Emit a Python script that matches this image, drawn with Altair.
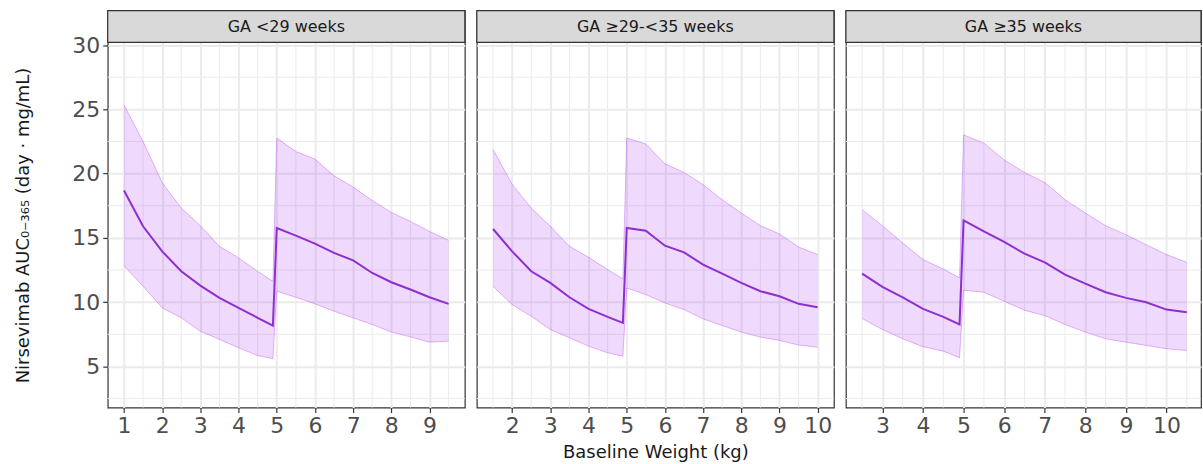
import altair as alt
import pandas as pd

# Facet labels (gestational-age groups)
panels = ["GA <29 weeks", "GA \u226529-<35 weeks", "GA \u226535 weeks"]

# GA <29 weeks
wt_a = [1, 1.5, 2, 2.5, 3, 3.5, 4, 4.5, 4.9, 5, 5.5, 6, 6.5, 7, 7.5, 8, 8.5, 9, 9.5]
med_a = [18.69, 15.9, 13.95, 12.4, 11.29, 10.33, 9.56, 8.78, 8.18,
         15.77, 15.17, 14.55, 13.83, 13.25, 12.27, 11.55, 10.98, 10.38, 9.87]
lo_a = [12.84, 11.24, 9.56, 8.78, 7.74, 7.1, 6.45, 5.85, 5.6,
        10.85, 10.38, 9.87, 9.3, 8.78, 8.26, 7.67, 7.3, 6.89, 6.96]
hi_a = [25.34, 22.5, 19.3, 17.32, 15.95, 14.34, 13.44, 12.4, 11.62,
        22.76, 21.72, 21.13, 19.83, 18.95, 17.91, 16.98, 16.28, 15.5, 14.81]

# GA >=29 to <35 weeks
wt_b = [1.5, 2, 2.5, 3, 3.5, 4, 4.5, 4.9, 5, 5.5, 6, 6.5, 7, 7.5, 8, 8.5, 9, 9.5, 10]
med_b = [15.69, 13.95, 12.4, 11.5, 10.38, 9.48, 8.86, 8.39,
         15.77, 15.56, 14.39, 13.87, 12.92, 12.22, 11.5, 10.85, 10.46, 9.87, 9.61]
lo_b = [11.24, 9.81, 8.9, 7.87, 7.23, 6.58, 6.06, 5.8,
        11.1, 10.59, 9.94, 9.42, 8.7, 8.18, 7.67, 7.28, 7.02, 6.66, 6.5]
hi_b = [21.9, 19.16, 17.32, 15.9, 14.34, 13.49, 12.53, 11.81,
        22.76, 22.31, 20.76, 20.09, 19.13, 17.97, 16.93, 15.95, 15.3, 14.29, 13.7]

# GA >=35 weeks
wt_c = [2.5, 3, 3.5, 4, 4.5, 4.9, 5, 5.5, 6, 6.5, 7, 7.5, 8, 8.5, 9, 9.5, 10, 10.5]
med_c = [12.22, 11.19, 10.38, 9.48, 8.86, 8.26,
         16.36, 15.5, 14.68, 13.77, 13.1, 12.14, 11.44, 10.77, 10.33, 9.99, 9.42, 9.22]
lo_c = [8.73, 7.87, 7.15, 6.53, 6.19, 5.67,
        10.93, 10.77, 10.07, 9.37, 8.96, 8.26, 7.67, 7.15, 6.89, 6.63, 6.37, 6.24]
hi_c = [17.19, 15.95, 14.6, 13.31, 12.58, 11.89,
        23.01, 22.37, 21.07, 20.09, 19.31, 17.97, 16.93, 15.95, 15.25, 14.47, 13.7, 13.1]

# axis domains, major breaks and minor grid positions
x_domains = [[0.575, 9.925], [1.075, 10.425], [2.1, 10.85]]
x_major = [[1, 2, 3, 4, 5, 6, 7, 8, 9],
           [2, 3, 4, 5, 6, 7, 8, 9, 10],
           [3, 4, 5, 6, 7, 8, 9, 10]]
x_minor = [[1.5, 2.5, 3.5, 4.5, 5.5, 6.5, 7.5, 8.5, 9.5],
           [1.5, 2.5, 3.5, 4.5, 5.5, 6.5, 7.5, 8.5, 9.5],
           [2.5, 3.5, 4.5, 5.5, 6.5, 7.5, 8.5, 9.5, 10.5]]
y_lo, y_hi = 1.8, 30.2          # visible data range of the panel body
y_major = [5, 10, 15, 20, 25, 30]
y_minor = [2.5, 7.5, 12.5, 17.5, 22.5, 27.5]

series = [(wt_a, med_a, lo_a, hi_a), (wt_b, med_b, lo_b, hi_b), (wt_c, med_c, lo_c, hi_c)]
widths = [358, 358, 356]
BODY_H = 366
STRIP_H = 32
TOTAL_H = BODY_H + STRIP_H
# the strip header sits on top of the body inside the same view
y_top = y_lo + (y_hi - y_lo) * TOTAL_H / BODY_H

FONT = "DejaVu Sans"
BAND = "#a020f0"
MEDIAN = "#8e2fcf"
GRID = "#ebebeb"
BORDER = "#333333"

y_title = "Nirsevimab AUC\u2080\u208b\u2083\u2086\u2085 (day \u00b7 mg/mL)"


def panel(i):
    wt, med, lo, hi = series[i]
    df = pd.DataFrame({"w": wt, "med": med, "lo": lo, "hi": hi})

    x_axis = alt.Axis(
        values=x_major[i], format="d",
        tickColor=BORDER, tickSize=5, tickWidth=1.2,
        gridColor=GRID, gridWidth=2,
        domain=False, labelFontSize=22, labelColor="#4d4d4d", labelFont=FONT,
        labelPadding=3, labelFlush=False, labelOverlap=False,
        title="Baseline Weight (kg)" if i == 1 else None,
        titleFontSize=18, titleFont=FONT, titleFontWeight="normal",
        titleColor="#1a1a1a", titlePadding=7,
    )
    if i == 0:
        y_axis = alt.Axis(
            values=y_major, format="d",
            tickColor=BORDER, tickSize=5, tickWidth=1.2,
            gridColor=GRID, gridWidth=2,
            domain=False, labelFontSize=22, labelColor="#4d4d4d", labelFont=FONT,
            labelPadding=3, labelFlush=False, labelOverlap=False,
            title=y_title, titleFontSize=18, titleFont=FONT,
            titleFontWeight="normal", titleColor="#1a1a1a", titlePadding=39,
            titleY=STRIP_H + BODY_H / 2,
        )
    else:
        y_axis = alt.Axis(
            values=y_major, labels=False, ticks=False, domain=False, title=None,
            gridColor=GRID, gridWidth=2, minExtent=0,
        )

    x_scale = alt.Scale(domain=x_domains[i], nice=False, zero=False)
    y_scale = alt.Scale(domain=[y_lo, y_top], nice=False, zero=False)

    # minor grid lines
    vgrid = alt.Chart(pd.DataFrame({"g": x_minor[i]})).mark_rule(
        color=GRID, strokeWidth=1
    ).encode(x=alt.X("g:Q", scale=x_scale, axis=x_axis))
    hgrid = alt.Chart(pd.DataFrame({"g": y_minor})).mark_rule(
        color=GRID, strokeWidth=1
    ).encode(y=alt.Y("g:Q", scale=y_scale, axis=y_axis))

    base = alt.Chart(df)
    xe = alt.X("w:Q", scale=x_scale, axis=x_axis)
    band = base.mark_area(color=BAND, opacity=0.17).encode(
        x=xe, y=alt.Y("lo:Q", scale=y_scale, axis=y_axis), y2="hi:Q"
    )
    upper = base.mark_line(color=BAND, opacity=0.45, strokeWidth=0.7).encode(
        x=xe, y=alt.Y("hi:Q", scale=y_scale, axis=y_axis)
    )
    lower = base.mark_line(color=BAND, opacity=0.45, strokeWidth=0.7).encode(
        x=xe, y=alt.Y("lo:Q", scale=y_scale, axis=y_axis)
    )
    mid = base.mark_line(color=MEDIAN, strokeWidth=2).encode(
        x=xe, y=alt.Y("med:Q", scale=y_scale, axis=y_axis)
    )

    # grey facet strip with its label
    lab = alt.Chart(pd.DataFrame({"label": [panels[i]]}))
    strip = lab.mark_rect(fill="#d9d9d9", stroke=BORDER, strokeWidth=1.2).encode(
        x=alt.value(0), x2=alt.value(widths[i]), y=alt.value(0), y2=alt.value(STRIP_H)
    )
    strip_text = lab.mark_text(
        font=FONT, fontSize=16, color="#1a1a1a", align="center", baseline="middle"
    ).encode(
        text="label:N", x=alt.value(widths[i] / 2), y=alt.value(STRIP_H / 2 + 1)
    )

    return alt.layer(vgrid, hgrid, band, upper, lower, mid, strip, strip_text).properties(
        width=widths[i], height=TOTAL_H,
        view=alt.ViewBackground(fill="white", stroke=BORDER, strokeWidth=1.2),
    )


chart = alt.hconcat(panel(0), panel(1), panel(2), spacing=8).properties(
    padding={"left": 14, "top": 8, "right": 0, "bottom": 0},
    background="white",
).configure_view(strokeWidth=0)

chart.save("out.html", embed_options={"renderer": "svg", "actions": False})
